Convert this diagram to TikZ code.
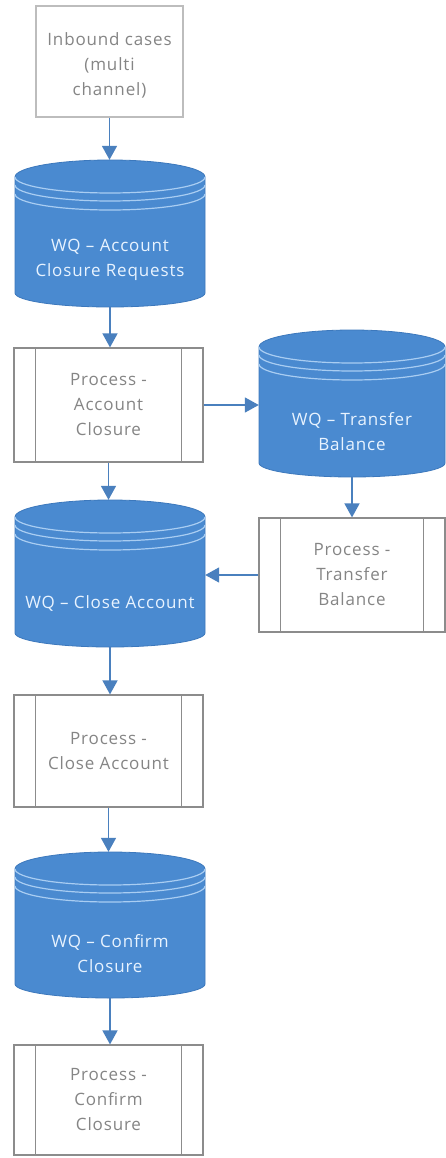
\documentclass[tikz,border=0pt]{standalone}
\usepackage{fontspec}
\setmainfont{Open Sans}
\newfontfamily\diafont[LetterSpace=5]{Open Sans}
\usetikzlibrary{arrows.meta,calc}
\definecolor{cylblue}{HTML}{4A8AD0}
\definecolor{cyledge}{HTML}{3C78BC}
\definecolor{cylline}{HTML}{A9CDF2}
\definecolor{cyltext}{HTML}{E8F3FF}
\definecolor{boxline}{HTML}{8C8C8C}
\definecolor{inbline}{HTML}{BDBDBD}
\definecolor{boxtext}{HTML}{858585}
\definecolor{arrowblue}{HTML}{4A80BE}
\newcommand\dbcyl[5]{% #1 name, #2 cx, #3 top, #4 bottom, #5 half width
  \fill[cylblue, draw=cyledge, line width=0.8pt] ({#2-#5},{-(#3+17)}) -- ({#2-#5},{-(#4-14)})
    arc[start angle=180,end angle=360,x radius=#5pt,y radius=14pt] -- ({#2+#5},{-(#3+17)})
    arc[start angle=0,end angle=180,x radius=#5pt,y radius=17pt] -- cycle;
  \foreach \o in {0,8,17} \draw[cylline, line width=1.2pt] ({#2-#5},{-(#3+17+\o)})
    arc[start angle=180,end angle=360,x radius=#5pt,y radius=16pt];
  \node[inner sep=0pt, minimum width=#5*2pt, minimum height=#4*1pt-#3*1pt] (#1) at (#2,{-(#3+#4)/2}) {};
}
\tikzset{
  txt/.style={font=\diafont\fontsize{17}{25}\selectfont, align=center, inner sep=0pt},
  cyltxt/.style={txt, text=cyltext},
  plainbox/.style={draw=boxline, line width=1.2pt, fill=white, inner sep=0pt, txt, text=boxtext},
  procbox/.style={plainbox},
  conn/.style={arrowblue, line width=1.6pt, -{Triangle[width=15pt,length=14pt]}},
}
\newcommand\sidelines[1]{%
  \draw[boxline, line width=1.2pt] ($(#1.north west)+(22,0)$) -- ($(#1.south west)+(22,0)$);
  \draw[boxline, line width=1.2pt] ($(#1.north east)+(-22,0)$) -- ($(#1.south east)+(-22,0)$);
}
\begin{document}
\begin{tikzpicture}[x=1pt,y=1pt]
\useasboundingbox (0,0) rectangle (446,-1158);
\fill[white] (0,0) rectangle (446,-1158);

% inbound
\node[plainbox, draw=inbline, minimum width=147pt, minimum height=111pt] (inb) at (109.5,-61.5) {};
\node[txt, text=boxtext] (inbt) at (109.5,-65) {Inbound cases\\(multi\\channel)};

% cylinders
\dbcyl{c1}{110}{160}{307}{95}
\node[cyltxt] (c1t) at (110,-260) {WQ – Account\\Closure Requests};
\dbcyl{c2}{352}{330}{477}{93}
\node[cyltxt] (c2t) at (352,-432) {WQ – Transfer\\Balance};
\dbcyl{c3}{110}{500}{647}{95}
\node[cyltxt] (c3t) at (110,-603) {WQ – Close Account};
\dbcyl{c4}{110}{852}{998}{95}
\node[cyltxt] (c4t) at (110,-954) {WQ – Confirm\\Closure};

% process boxes
\node[procbox, minimum width=189pt, minimum height=114pt] (p1) at (108.5,-405) {Process -\\Account\\Closure};
\sidelines{p1}
\node[procbox, minimum width=186pt, minimum height=114pt] (p2) at (352,-575) {Process -\\Transfer\\Balance};
\sidelines{p2}
\node[procbox, minimum width=189pt, minimum height=112pt] (p3) at (108.5,-751) {Process -\\Close Account};
\sidelines{p3}
\node[procbox, minimum width=189pt, minimum height=110pt] (p4) at (108.5,-1100) {Process -\\Confirm\\Closure};
\sidelines{p4}

% connectors
\draw[conn] (inb.south) -- (inb.south |- c1.north);
\draw[conn] (c1.south) -- (c1.south |- p1.north);
\draw[conn] (p1.east) -- (p1.east -| c2.west);
\draw[conn] (c2.south) -- (c2.south |- p2.north);
\draw[conn] (p2.west) -- (p2.west -| c3.east);
\draw[conn] (p1.south) -- (p1.south |- c3.north);
\draw[conn] (c3.south) -- (c3.south |- p3.north);
\draw[conn] (p3.south) -- (p3.south |- c4.north);
\draw[conn] (c4.south) -- (c4.south |- p4.north);
\end{tikzpicture}
\end{document}
